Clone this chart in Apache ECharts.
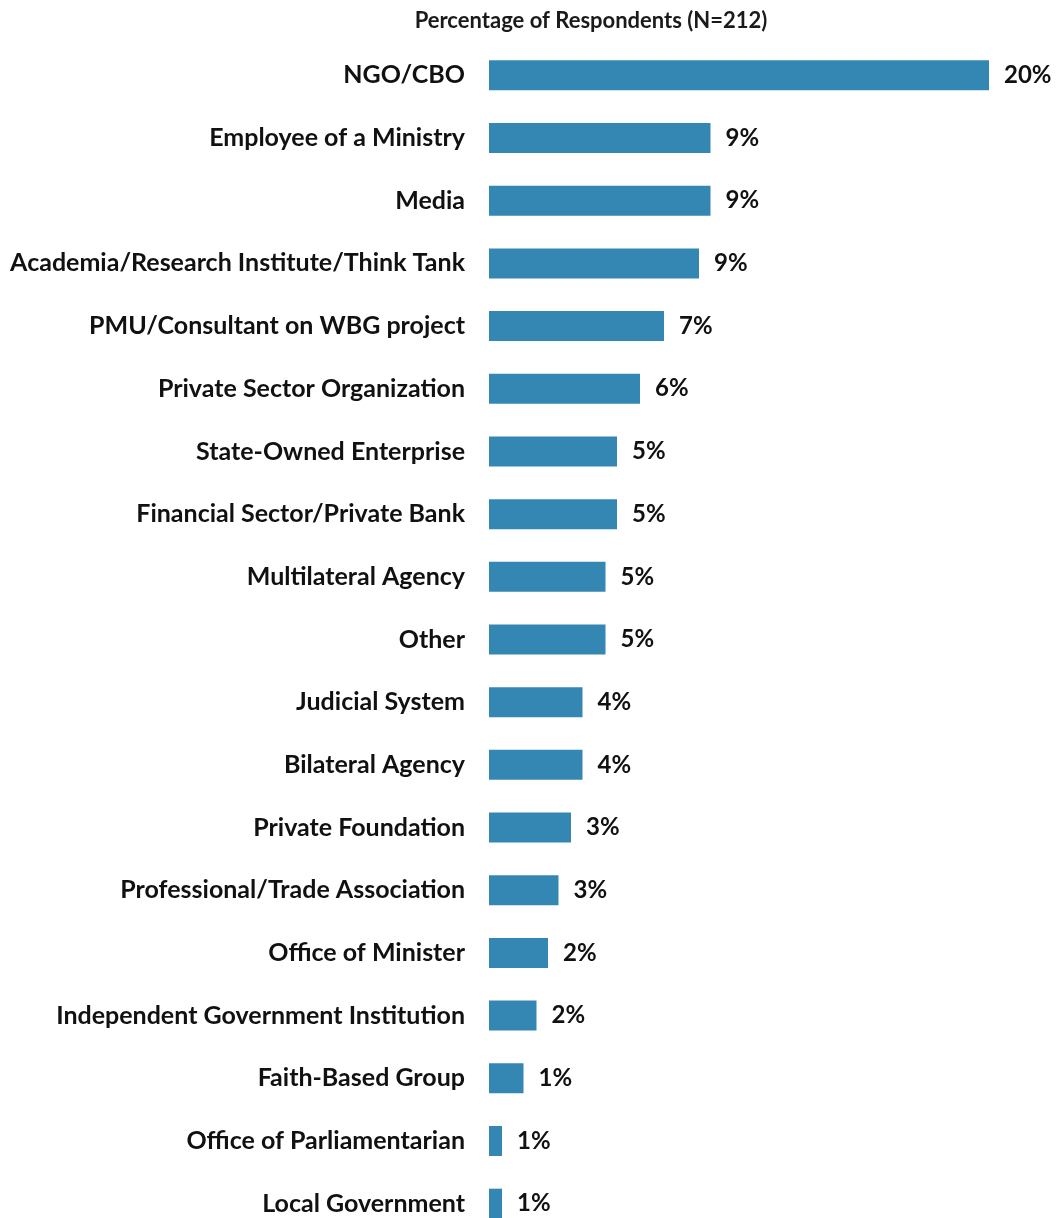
<!DOCTYPE html>
<html>
<head>
<meta charset="utf-8">
<title>Percentage of Respondents</title>
<script src="https://cdn.jsdelivr.net/npm/echarts@6.0.0/dist/echarts.min.js"></script>
<style>
    html, body { margin: 0; padding: 0; background: #fff; overflow: hidden; }
    /* taller than the window: the last row is cut by the page edge, as in the original */
    #chart { width: 1057px; height: 1240px; }
</style>
</head>
<body>
<div id="chart"></div>
<script>
    'use strict';

    // categories top -> bottom
    const categories = [
        'NGO/CBO',
        'Employee of a Ministry',
        'Media',
        'Academia/Research Institute/Think Tank',
        'PMU/Consultant on WBG project',
        'Private Sector Organization',
        'State-Owned Enterprise',
        'Financial Sector/Private Bank',
        'Multilateral Agency',
        'Other',
        'Judicial System',
        'Bilateral Agency',
        'Private Foundation',
        'Professional/Trade Association',
        'Office of Minister',
        'Independent Government Institution',
        'Faith-Based Group',
        'Office of Parliamentarian',
        'Local Government'
    ];

    // bar lengths (percent)
    const values = [20.0, 8.86, 8.86, 8.40, 7.00, 6.04, 5.12, 5.12, 4.66, 4.66,
        3.74, 3.74, 3.28, 2.78, 2.36, 1.90, 1.38, 0.52, 0.52];

    // labels as printed on the chart
    const shown = [20, 9, 9, 9, 7, 6, 5, 5, 5, 5, 4, 4, 3, 3, 2, 2, 1, 1, 1];

    const FONT = 'Lato';
    const chart = echarts.init(document.getElementById('chart'), null, {renderer: 'canvas'});

    const option = {
        backgroundColor: '#ffffff',
        animation: false,
        title: {
            text: 'Percentage of Respondents (N=212)',
            left: 586,
            textAlign: 'center',
            top: 5,
            textStyle: {fontFamily: FONT, fontWeight: 'bold', fontSize: 22, color: '#1a1a1a'}
        },
        grid: {left: 489, top: 44, width: 500, height: 1191, containLabel: false},
        xAxis: {
            type: 'value',
            min: 0,
            max: 20,
            show: false
        },
        yAxis: {
            type: 'category',
            inverse: true,
            data: categories,
            axisLine: {show: false},
            axisTick: {show: false},
            axisLabel: {
                margin: 24,
                fontFamily: FONT,
                fontWeight: 'bold',
                fontSize: 25,
                color: '#111'
            }
        },
        series: [{
            type: 'bar',
            data: values,
            barWidth: 30,
            itemStyle: {color: '#3387b2'},
            label: {
                show: true,
                position: 'right',
                distance: 15,
                fontFamily: FONT,
                fontWeight: 'bold',
                fontSize: 24,
                color: '#111',
                formatter: p => shown[p.dataIndex] + '%'
            }
        }]
    };

    chart.setOption(option);
</script>
</body>
</html>
